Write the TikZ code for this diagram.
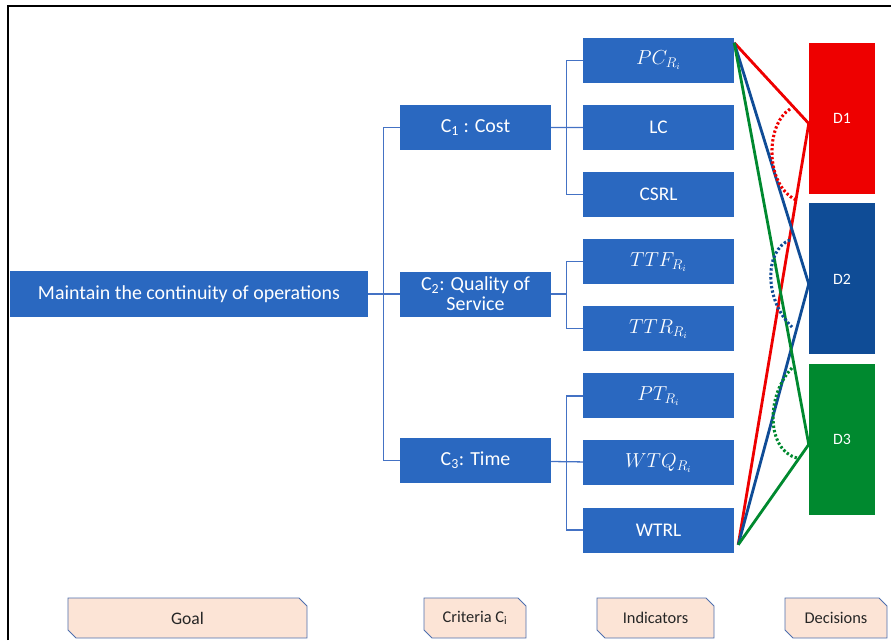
\documentclass[tikz,border=0pt]{standalone}
\usepackage{amsmath}
\usepackage{fontspec}
\setmainfont{Carlito}
\usepackage{xcolor}
\usetikzlibrary{positioning,shapes.misc}

\definecolor{boxblue}{HTML}{2A68C0}
\definecolor{linkblue}{HTML}{4472C4}
\definecolor{decred}{HTML}{EE0000}
\definecolor{decblue}{HTML}{0F4C96}
\definecolor{decgreen}{HTML}{00892F}
\definecolor{tagfill}{HTML}{FCE4D6}
\definecolor{tagline}{HTML}{4F6FAE}

\begin{document}
\begin{tikzpicture}[
    x=0.03cm,y=-0.03cm,
    node distance=0.648cm and 1cm,
    block/.style={rectangle,fill=boxblue,text=white,inner sep=0pt,align=center},
    crit/.style={block,minimum width=4.53cm,minimum height=1.35cm,font=\fontsize{17}{17}\selectfont},
    ind/.style={block,minimum width=4.53cm,minimum height=1.35cm,font=\fontsize{16.5}{18}\selectfont},
    dec/.style={rectangle,text=white,minimum width=1.98cm,minimum height=4.53cm,font=\fontsize{13.5}{16}\selectfont},
    tag/.style={chamfered rectangle,chamfered rectangle corners={north east,south west},chamfered rectangle xsep=0.13cm,draw=tagline,fill=tagfill,line width=0.8pt,minimum height=1.2cm,text=black!85,font=\fontsize{14}{16}\selectfont},
    link/.style={draw=linkblue,line width=1.1pt},
    wire/.style={line width=2.4pt,line join=round},
    arcmark/.style={line width=2.6pt,dash pattern=on 2pt off 1.8pt}
]
\useasboundingbox (0,0) rectangle (891,640);

% frame
\draw[line width=1.2pt] (8,640) -- (8,6) -- (891,6);

% goal and criteria
\node[block,minimum width=10.74cm,minimum height=1.38cm,font=\fontsize{17}{18}\selectfont] (goal) at (189,294) {Maintain the continuity of operations};
\node[crit] (c1) at (475.5,127.5) {C\textsubscript{1} : Cost};
\node[crit] (c2) at (475.5,294) {C\textsubscript{2}: Quality of\\Service};
\node[crit] (c3) at (475.5,460.5) {C\textsubscript{3}: Time};

% indicators
\node[ind] (pc) at (658.5,60.5) {$PC_{R_i}$};
\node[ind,below=of pc] (lc) {LC};
\node[ind,below=of lc] (csrl) {CSRL};
\node[ind,below=of csrl] (ttf) {$TTF_{R_i}$};
\node[ind,below=of ttf] (ttr) {$TTR_{R_i}$};
\node[ind,below=of ttr] (pt) {$PT_{R_i}$};
\node[ind,below=of pt] (wtq) {$WTQ_{R_i}$};
\node[ind,below=of wtq] (wtrl) {WTRL};

% decisions
\node[dec,fill=decred] (d1) at (842,118.5) {D1};
\node[dec,fill=decblue,below=0.27cm of d1] (d2) {D2};
\node[dec,fill=decgreen,below=0.27cm of d2] (d3) {D3};

% tree links
\draw[link] (goal) -- (c2);
\draw[link] (c1.west) -- ++(-0.48cm,0) |- (c3.west);
\draw[link] (c1) -- (lc);
\draw[link] (pc.west) -- ++(-0.48cm,0) |- (csrl.west);
\draw[link] (c2.east) -- ++(0.48cm,0);
\draw[link] (ttf.west) -- ++(-0.48cm,0) |- (ttr.west);
\draw[link] (c3) -- (wtq);
\draw[link] (pt.west) -- ++(-0.48cm,0) |- (wtrl.west);

% decision wires
\coordinate (top) at ([yshift=-0.15cm]pc.north east);
\coordinate (bot) at ([xshift=0.12cm,yshift=0.24cm]wtrl.south east);
\foreach \d/\c in {d1/decred,d2/decblue,d3/decgreen} {
  \draw[wire,\c] (top) -- ([yshift=-0.15cm]\d.west) -- (bot);
}

% angle marks
\draw[arcmark,decred] (790,109) .. controls (765,125) and (765,185) .. (796,200);
\draw[arcmark,decblue] (790,240) .. controls (764,250) and (764,300) .. (792,327);
\draw[arcmark,decgreen] (792,368) .. controls (766,395) and (766,450) .. (797,458);

% column labels
\node[tag,minimum width=7.17cm,font=\fontsize{15}{16}\selectfont] (goaltag) at (187.5,618) {Goal};
\node[tag,minimum width=3.06cm] (crittag) at (475,618) {Criteria C\textsubscript{i}};
\node[tag,minimum width=3.51cm] (indtag) at (655.5,618) {Indicators};
\node[tag,minimum width=3.06cm] (dectag) at (836,618) {Decisions};

\end{tikzpicture}
\end{document}
